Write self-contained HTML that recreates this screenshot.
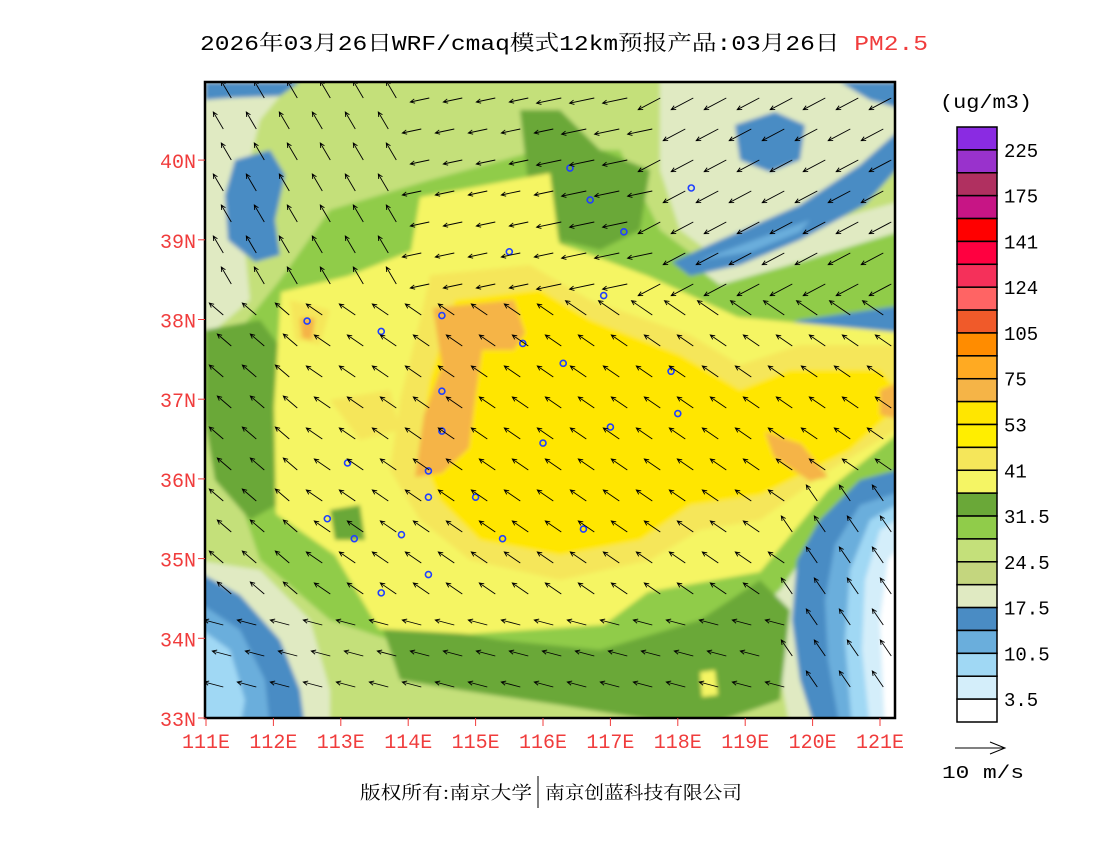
<!DOCTYPE html>
<html><head><meta charset="utf-8">
<style>
html,body{margin:0;padding:0;background:#fff;}
body{width:1100px;height:850px;position:relative;overflow:hidden;font-family:"Liberation Mono","Noto Sans CJK SC",monospace;}
</style></head>
<body>
<svg id="svg" width="1100" height="850" style="position:absolute;left:0;top:0">
<defs>
<clipPath id="mapclip"><rect x="205" y="82" width="690" height="636"/></clipPath>
<filter id="soft" x="-5%" y="-5%" width="110%" height="110%"><feGaussianBlur stdDeviation="2"/></filter>
</defs>
<text x="200" y="50" textLength="728" lengthAdjust="spacingAndGlyphs" font-size="21" font-family="Liberation Mono, Noto Serif CJK SC, monospace">2026年03月26日WRF/cmaq模式12km预报产品:03月26日 <tspan fill="#f03c3c">PM2.5</tspan></text>
<text x="940" y="108" textLength="92" lengthAdjust="spacingAndGlyphs" font-size="19" font-family="Liberation Mono, monospace">(ug/m3)</text>
<g>
<text x="360" y="799" textLength="172" lengthAdjust="spacingAndGlyphs" font-size="18" font-family="Noto Serif CJK SC, serif">版权所有:南京大学</text>
<line x1="538" y1="776" x2="538" y2="808" stroke="#000" stroke-width="1"/>
<text x="545" y="799" textLength="197" lengthAdjust="spacingAndGlyphs" font-size="18" font-family="Noto Serif CJK SC, serif">南京创蓝科技有限公司</text>
</g>
<g clip-path="url(#mapclip)">
<g filter="url(#soft)" id="fields">
<rect x="195" y="72" width="710" height="656" fill="#c4e07a"/>
<path d="M195,72 L300,72 L260,120 L240,200 L250,300 L215,330 L195,330Z" fill="#e0eac2"/>
<path d="M660,72 L905,72 L905,160 L820,220 L720,260 L680,230 L660,170Z" fill="#e0eac2"/>
<path d="M650,270 L760,240 L905,200 L905,350 L770,350 L700,320Z" fill="#e0eac2"/>
<path d="M195,560 L260,570 L310,620 L330,690 L330,728 L195,728Z" fill="#e0eac2"/>
<path d="M905,440 L840,470 L790,530 L770,620 L790,728 L905,728Z" fill="#e0eac2"/>
<path d="M330,210 L430,180 L540,150 L620,150 L660,230 L740,290 L905,300 L905,470 L830,520 L780,590 L720,640 L600,660 L420,650 L330,620 L260,560 L230,470 L240,330 L280,280Z" fill="#90cc4a"/>
<path d="M520,110 L560,110 L600,150 L650,170 L640,230 L600,250 L560,240 L530,200Z" fill="#6aa838"/>
<path d="M420,200 L470,190 L520,230 L470,250 L420,250Z" fill="#6aa838"/>
<path d="M205,330 L260,320 L290,360 L300,430 L285,500 L250,520 L215,480 L205,420Z" fill="#6aa838"/>
<path d="M380,620 L500,640 L600,650 L700,620 L760,580 L790,610 L780,700 L700,728 L560,705 L460,690 L400,680Z" fill="#6aa838"/>
<path d="M560,240 L640,290 L700,300 L740,300 L760,330 L720,340 L620,320 L560,290Z" fill="#6aa838"/>
<path d="M640,290 L720,270 L800,250 L905,230 L905,300 L800,315 L720,330Z" fill="#90cc4a"/>
<path d="M700,270 L800,240 L905,200 L905,230 L800,262 L720,285Z" fill="#e0eac2"/>
<path d="M235,160 L270,150 L285,175 L275,220 L280,255 L255,262 L228,240 L225,195Z" fill="#4a8cc4"/>
<path d="M205,82 L300,82 L280,96 L230,98 L205,100Z" fill="#4a8cc4"/>
<path d="M735,125 L775,112 L805,125 L800,160 L770,172 L740,160Z" fill="#4a8cc4"/>
<path d="M672,262 L720,240 L800,205 L860,165 L905,125 L905,160 L865,205 L800,240 L740,265 L690,276Z" fill="#4a8cc4"/>
<path d="M700,260 L760,238 L810,220 L800,232 L750,252Z" fill="#6aaedc"/>
<path d="M840,82 L905,82 L905,110 L870,100Z" fill="#4a8cc4"/>
<path d="M750,335 L800,320 L905,305 L905,332 L810,338 L765,345Z" fill="#4a8cc4"/>
<path d="M905,468 L860,480 L820,520 L797,560 L792,620 L800,680 L815,728 L905,728Z" fill="#4a8cc4"/>
<path d="M905,490 L860,505 L835,545 L825,600 L828,660 L840,728 L905,728Z" fill="#6aaedc"/>
<path d="M905,500 L870,520 L850,570 L845,640 L852,728 L905,728Z" fill="#a0d8f4"/>
<path d="M905,515 L880,530 L865,580 L862,650 L870,728 L905,728Z" fill="#d4eefa"/>
<path d="M905,540 L888,560 L880,620 L885,728 L905,728Z" fill="#ffffff"/>
<path d="M195,570 L240,595 L280,640 L300,690 L305,728 L195,728Z" fill="#4a8cc4"/>
<path d="M195,600 L240,630 L265,680 L270,728 L195,728Z" fill="#6aaedc"/>
<path d="M195,625 L230,650 L245,700 L240,728 L195,728Z" fill="#a0d8f4"/>
<path d="M420,197 L550,173 L559,243 L648,276 L738,317 L905,333 L905,428 L828,490 L760,572 L648,592 L604,625 L469,634 L379,629 L335,555 L276,514 L274,407 L281,292 L348,276 L411,251Z" fill="#f5f564"/>
<path d="M430,275 L530,265 L590,300 L690,335 L740,365 L800,345 L905,345 L905,425 L830,470 L760,520 L700,530 L650,560 L560,580 L470,560 L420,520 L390,470 L400,400 L420,320Z" fill="#f5e65a"/>
<path d="M455,300 L540,290 L590,320 L680,355 L740,390 L790,370 L880,370 L905,400 L850,450 L760,495 L690,505 L640,540 L560,555 L480,540 L440,500 L420,450 L430,380 L445,330Z" fill="#ffe600"/>
<path d="M290,300 L330,310 L320,345 L295,340Z" fill="#f5e65a"/>
<path d="M330,400 L390,390 L400,430 L360,440Z" fill="#f5e65a"/>
<path d="M433,308 L514,300 L525,333 L514,350 L482,350 L474,407 L469,448 L442,473 L415,477 L424,415 L442,366Z" fill="#f5b447"/>
<path d="M765,432 L801,444 L828,477 L810,481 L774,457Z" fill="#f5b447"/>
<path d="M880,390 L905,380 L905,420 L880,415Z" fill="#f5b447"/>
<path d="M300,318 L315,318 L312,340 L302,338Z" fill="#f5b447"/>
<path d="M330,510 L360,505 L365,540 L335,540Z" fill="#6aa838"/>
<path d="M700,672 L715,670 L718,695 L702,697Z" fill="#f5f564"/>
</g>
<g id="cities"></g>
<g id="arrows"></g>
</g>
<rect x="205" y="82" width="690" height="636" fill="none" stroke="#000" stroke-width="2.5"/>
<g id="axes"></g>
<g id="colorbar"></g>
<g>
<line x1="955" y1="748" x2="1005" y2="748" stroke="#000" stroke-width="1"/>
<path d="M990,742 L1005,748 L990,754" fill="none" stroke="#000" stroke-width="1"/>
<text x="942" y="778" textLength="82" lengthAdjust="spacingAndGlyphs" font-size="18" font-family="Liberation Mono, monospace">10 m/s</text>
</g>
</svg>
<script>
const NS="http://www.w3.org/2000/svg";
const latTicks=[33,34,35,36,37,38,39,40];
const lonTicks=[111,112,113,114,115,116,117,118,119,120,121];
const cbColors=["#8a2be2","#9932cc","#b03060","#c71585","#ff0000","#ff0040","#f5305a","#ff6464","#f05a2a","#ff8c00","#ffaa22","#f5b447","#ffe600","#ffee00","#f5e65a","#f5f564","#6aa838","#90cc4a","#c4e07a","#c4d67e","#e0eac2","#4a8cc4","#6aaedc","#a0d8f4","#d4eefa","#ffffff"];
const cbLabels=["225","175","141","124","105","75","53","41","31.5","24.5","17.5","10.5","3.5"];
const cityLon=[116.4,116.7,117.2,118.2,115.5,116.9,114.5,115.7,112.5,113.6,116.3,117.9,114.5,114.5,116.0,117.0,118.0,114.3,115.0,114.3,113.1,112.8,113.9,113.2,115.4,116.6,114.3,113.6];
const cityLat=[39.9,39.5,39.1,39.65,38.85,38.3,38.05,37.7,37.98,37.85,37.45,37.35,37.1,36.6,36.45,36.65,36.82,36.1,35.77,35.77,36.2,35.5,35.3,35.25,35.25,35.37,34.8,34.57];
const x0=206,xs=67.4,y0=718,ys=79.7;
const X=lon=>x0+(lon-111)*xs, Y=lat=>y0-(lat-33)*ys;
const ax=document.getElementById('axes');
latTicks.forEach(l=>{
  const t=document.createElementNS(NS,'line');
  t.setAttribute('x1',198);t.setAttribute('x2',205);t.setAttribute('y1',Y(l));t.setAttribute('y2',Y(l));t.setAttribute('stroke','#f03c3c');
  
  
  ax.appendChild(t);
  const s=document.createElementNS(NS,'text');
  s.setAttribute('x',196);s.setAttribute('y',Y(l)+8);s.setAttribute('text-anchor','end');s.setAttribute('font-size','20');s.setAttribute('fill','#f03c3c');s.setAttribute('font-family','Liberation Mono, monospace');
  s.textContent=l+'N';
  
  
  ax.appendChild(s);
});
lonTicks.forEach(l=>{
  const t=document.createElementNS(NS,'line');
  t.setAttribute('x1',X(l));t.setAttribute('x2',X(l));t.setAttribute('y1',718);t.setAttribute('y2',726);t.setAttribute('stroke','#f03c3c');
  
  
  ax.appendChild(t);
  const s=document.createElementNS(NS,'text');
  s.setAttribute('x',X(l));s.setAttribute('y',748);s.setAttribute('text-anchor','middle');s.setAttribute('font-size','20');s.setAttribute('fill','#f03c3c');s.setAttribute('font-family','Liberation Mono, monospace');
  s.textContent=l+'E';
  
  
  ax.appendChild(s);
});
const cb=document.getElementById('colorbar');
const cbTop=127,cbH=595/cbColors.length;
cbColors.forEach((c,i)=>{
  const r=document.createElementNS(NS,'rect');
  r.setAttribute('x',957);r.setAttribute('y',cbTop+i*cbH);r.setAttribute('width',40);r.setAttribute('height',cbH);r.setAttribute('fill',c);r.setAttribute('stroke','#000');r.setAttribute('stroke-width','1.5');
  
  
  cb.appendChild(r);
});
cbLabels.forEach((l,i)=>{
  const s=document.createElementNS(NS,'text');
  s.setAttribute('x',1004);s.setAttribute('y',cbTop+(2*i+1)*cbH+7);s.setAttribute('font-size','19');s.setAttribute('font-family','Liberation Mono, monospace');
  s.textContent=l;
  
  
  cb.appendChild(s);
});
const cg=document.getElementById('cities');
cityLon.forEach((lo,i)=>{
  const c=document.createElementNS(NS,'circle');
  c.setAttribute('cx',X(lo));c.setAttribute('cy',Y(cityLat[i]));c.setAttribute('r',3);c.setAttribute('fill','none');c.setAttribute('stroke','#2040ff');c.setAttribute('stroke-width','1.6');
  
  
  cg.appendChild(c);
});
const ag=document.getElementById('arrows');
function dir(x,y){
  if(x>790&&y>470) return [-0.55,-0.8];
  if(x>660&&y<300) return [-0.85,0.45];
  if(y<300&&x<420) return [-0.5,-0.85];
  if(y<300) return [-0.95,0.2];
  if(y>600) return [-0.95,-0.25];
  if(x<300) return [-0.7,-0.6];
  return [-0.8,-0.55];
}
for(let y=98;y<715;y+=31){
  for(let x=222+((y/31)%2)*8;x<895;x+=33){
    const [dx,dy]=dir(x,y);const L=(x>790&&y>470)?20:(y<330&&x>560?26:20);
    const x2=x+dx*L,y2=y+dy*L;
    const p=document.createElementNS(NS,'path');
    const a=Math.atan2(dy,dx),h=5;
    const hx1=x2-h*Math.cos(a-0.45),hy1=y2-h*Math.sin(a-0.45),hx2=x2-h*Math.cos(a+0.45),hy2=y2-h*Math.sin(a+0.45);
    p.setAttribute('d',`M${x},${y}L${x2},${y2}M${hx1},${hy1}L${x2},${y2}L${hx2},${hy2}`);
    p.setAttribute('stroke','#000');p.setAttribute('stroke-width','0.9');p.setAttribute('fill','none');
    
    
    ag.appendChild(p);
  }
}
</script>
</body></html>
